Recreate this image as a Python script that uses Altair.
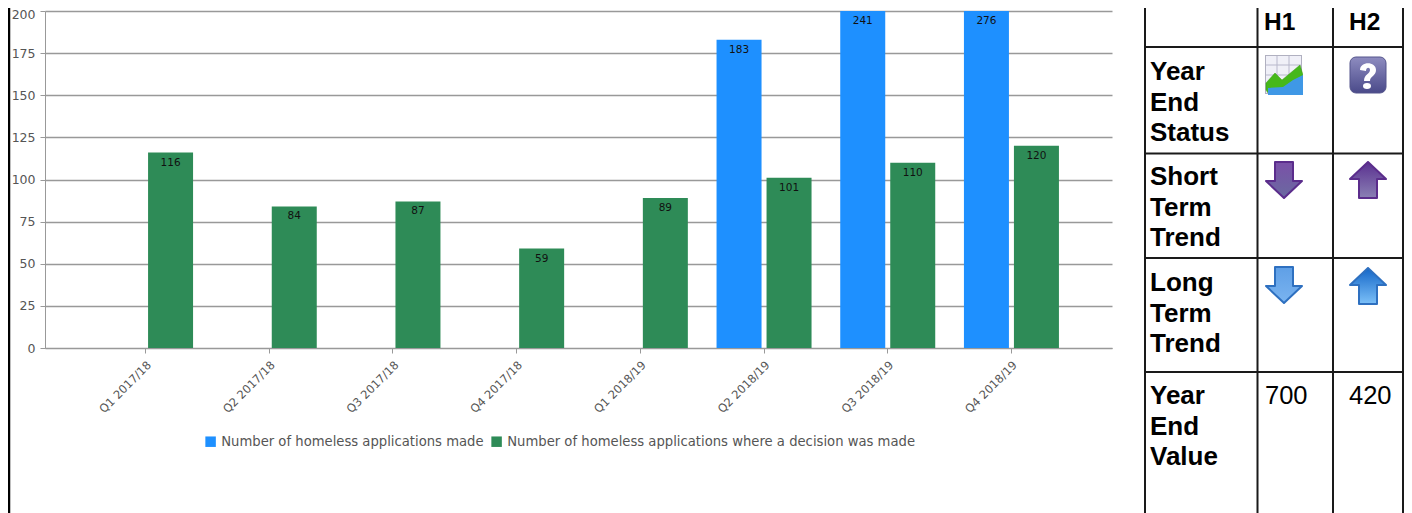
import base64
import altair as alt
import pandas as pd

# ---- values ----
quarters = ["Q1 2017/18", "Q2 2017/18", "Q3 2017/18", "Q4 2017/18",
            "Q1 2018/19", "Q2 2018/19", "Q3 2018/19", "Q4 2018/19"]
applications_made = [None, None, None, None, None, 183, 241, 276]
decisions_made = [116, 84, 87, 59, 89, 101, 110, 120]
series_names = ["Number of homeless applications made",
                "Number of homeless applications where a decision was made"]
series_colors = ["#1E90FF", "#2E8B57"]
y_ticks = [0, 25, 50, 75, 100, 125, 150, 175, 200]

table_headers = ["H1", "H2"]
table_rows = [["Year", "End", "Status"], ["Short", "Term", "Trend"],
              ["Long", "Term", "Trend"], ["Year", "End", "Value"]]
year_end_values = ["700", "420"]

rows = []
for q, a, d in zip(quarters, applications_made, decisions_made):
    if a is not None:
        rows.append({"quarter": q, "series": series_names[0], "value": a})
    rows.append({"quarter": q, "series": series_names[1], "value": d})
df = pd.DataFrame(rows)

# ---- page geometry: absolute picture coordinates -> view coordinates ----
OX, OY = 45, 11
def vx(px): return px - OX
def vy(py): return py - OY

x_enc = alt.X("quarter:N", sort=quarters, title=None,
              scale=alt.Scale(paddingInner=0, paddingOuter=0.313),
              axis=alt.Axis(labelAngle=-45, labelFont="DejaVu Sans", labelFontSize=11.5,
                            labelColor="#555555", labelPadding=6, tickSize=5,
                            tickColor="#999999", domainColor="#999999", grid=False))
xo_enc = alt.XOffset("series:N", sort=series_names,
                     scale=alt.Scale(paddingInner=0.1, paddingOuter=0.287))
y_scale = alt.Scale(domain=[0, 200], clamp=True)

bars = alt.Chart(df).mark_bar().encode(
    x=x_enc, xOffset=xo_enc,
    y=alt.Y("value:Q", title=None, scale=y_scale,
            axis=alt.Axis(values=y_ticks, labelFont="DejaVu Sans", labelFontSize=12.5,
                          labelColor="#555555", tickSize=5, labelPadding=5,
                          labelOffset=alt.expr("datum.value == 200 ? 3 : 0"),
                          tickColor="#999999", domainColor="#999999",
                          gridColor="#999999", gridWidth=1.3, gridOpacity=1)),
    color=alt.Color("series:N", sort=series_names,
                    scale=alt.Scale(domain=series_names, range=series_colors),
                    legend=alt.Legend(title=None, orient="none", direction="horizontal",
                                      legendX=vx(204), legendY=vy(435), columns=2,
                                      symbolType="square", symbolSize=110,
                                      symbolStrokeWidth=0, labelFont="DejaVu Sans",
                                      labelFontSize=13.2, labelColor="#555555",
                                      labelLimit=500, columnPadding=6, labelOffset=4)),
)
labels = alt.Chart(df).mark_text(baseline="middle", dy=10, font="DejaVu Sans",
                                 fontSize=10.5, color="#111111").encode(
    x=alt.X("quarter:N", sort=quarters, title=None,
            scale=alt.Scale(paddingInner=0, paddingOuter=0.313)),
    xOffset=xo_enc,
    y=alt.Y("value:Q", title=None, scale=y_scale),
    text="value:Q",
)

# ---- table and frame ----
one = alt.Data(values=[{}])
frame = []
def vline(px, w=2, color="#1a1a1a"):
    frame.append(alt.Chart(one).mark_rule(color=color, strokeWidth=w).encode(
        x=alt.value(vx(px)), y=alt.value(vy(0)), y2=alt.value(vy(513))))
def hline(py, w=2, color="#1a1a1a"):
    frame.append(alt.Chart(one).mark_rule(color=color, strokeWidth=w).encode(
        x=alt.value(vx(1144)), x2=alt.value(vx(1404)), y=alt.value(vy(py))))
vline(9, 2.5, "#000000")
for px in (1145, 1257.5, 1333, 1403):
    vline(px)
for py in (47, 153.5, 258, 372):
    hline(py)

def text(t, px, py, bold=True, size=26):
    return alt.Chart(one).mark_text(text=t, align="left", baseline="alphabetic",
                                    font="Liberation Sans", fontSize=size,
                                    fontWeight="bold" if bold else "normal",
                                    lineHeight=30.5, color="#000000").encode(
        x=alt.value(vx(px)), y=alt.value(vy(py)))

cells = []
for t, px in zip(table_headers, (1264, 1349)):
    cells.append(text(t, px, 30, size=24.5))
for t, py in zip(table_rows, (80, 185, 291, 404)):
    cells.append(text(t, 1150, py))
for t, px in zip(year_end_values, (1265, 1349)):
    cells.append(text(t, px, 404, bold=False, size=25.5))

# ---- icons ----
def uri(svg):
    return "data:image/svg+xml;base64," + base64.b64encode(svg.encode()).decode()

def arrow(c1, c2, edge, up):
    pts = "10,1 28,1 28,20 37,20 19,37 1,20 10,20"
    tr = ' transform="rotate(180 19 19)"' if up else ""
    return uri(f'<svg xmlns="http://www.w3.org/2000/svg" width="38" height="38" viewBox="0 0 38 38">'
               f'<defs><linearGradient id="g" x1="0" y1="0" x2="0" y2="1">'
               f'<stop offset="0" stop-color="{c1}"/><stop offset="1" stop-color="{c2}"/></linearGradient></defs>'
               f'<polygon points="{pts}"{tr} fill="url(#g)" stroke="{edge}" stroke-width="2" stroke-linejoin="round"/></svg>')

chart_icon = uri(
    '<svg xmlns="http://www.w3.org/2000/svg" width="38" height="40" viewBox="0 0 38 40">'
    '<rect x="0.5" y="0.5" width="36" height="38" fill="#f0f0f8" stroke="#b0b0c0"/>'
    '<path d="M1 10H37M1 20H37M1 30H37M12 1V39M24 1V39" stroke="#b8b8cc" fill="none"/>'
    '<path d="M1 28 L10 18 L17 25 L35 10 L38 20 L38 26 L18 33 L3 38 L1 35Z" fill="#46b81a" stroke="#3a9a14" stroke-width="0.5"/>'
    '<path d="M3 33 L18 32 L28 25 L38 20 V40 H3Z" fill="#3f98e6"/>'
    '</svg>')
question_icon = uri(
    '<svg xmlns="http://www.w3.org/2000/svg" width="38" height="38" viewBox="0 0 38 38">'
    '<defs><linearGradient id="g" x1="0" y1="0" x2="0" y2="1"><stop offset="0" stop-color="#8e8cc0"/>'
    '<stop offset="1" stop-color="#4a4a8a"/></linearGradient></defs>'
    '<rect x="1" y="1" width="36" height="36" rx="6" fill="url(#g)" stroke="#55558c"/>'
    '<path d="M11 14 C11 5 27 5 27 14 C27 20 21 20 21 25 H15 C15 18 21 18 21 14 C21 11 17 11 17 15Z" fill="#ffffff"/>'
    '<ellipse cx="18" cy="30" rx="4" ry="3" fill="#ffffff"/></svg>')
purple_down = arrow("#7a50a8", "#6a6aa0", "#5b2d8c", False)
purple_up = arrow("#8a80b4", "#5a3090", "#5b2d8c", True)
blue_down = arrow("#5f9fe6", "#7ab4f0", "#2e70c0", False)
blue_up = arrow("#7cc0f8", "#1466c8", "#2e70c0", True)

def image(u, px, py, w=38, h=38):
    return alt.Chart(one).mark_image(url=u, width=w, height=h, align="left",
                                     baseline="top").encode(
        x=alt.value(vx(px)), y=alt.value(vy(py)))

icons = [image(chart_icon, 1265, 55, 38, 40), image(question_icon, 1349, 56),
         image(purple_down, 1265, 161), image(purple_up, 1349, 161),
         image(blue_down, 1265, 266), image(blue_up, 1349, 267)]

chart = alt.layer(bars, labels, *frame, *cells, *icons).properties(
    width=1067, height=337,
    padding={"left": 37, "top": 3, "right": 292, "bottom": 165},
    autosize=alt.AutoSizeParams(type="none", contains="content"),
    background="#ffffff",
).configure_view(stroke=None)

chart.save("out.html", embed_options={"renderer": "svg", "actions": False})
